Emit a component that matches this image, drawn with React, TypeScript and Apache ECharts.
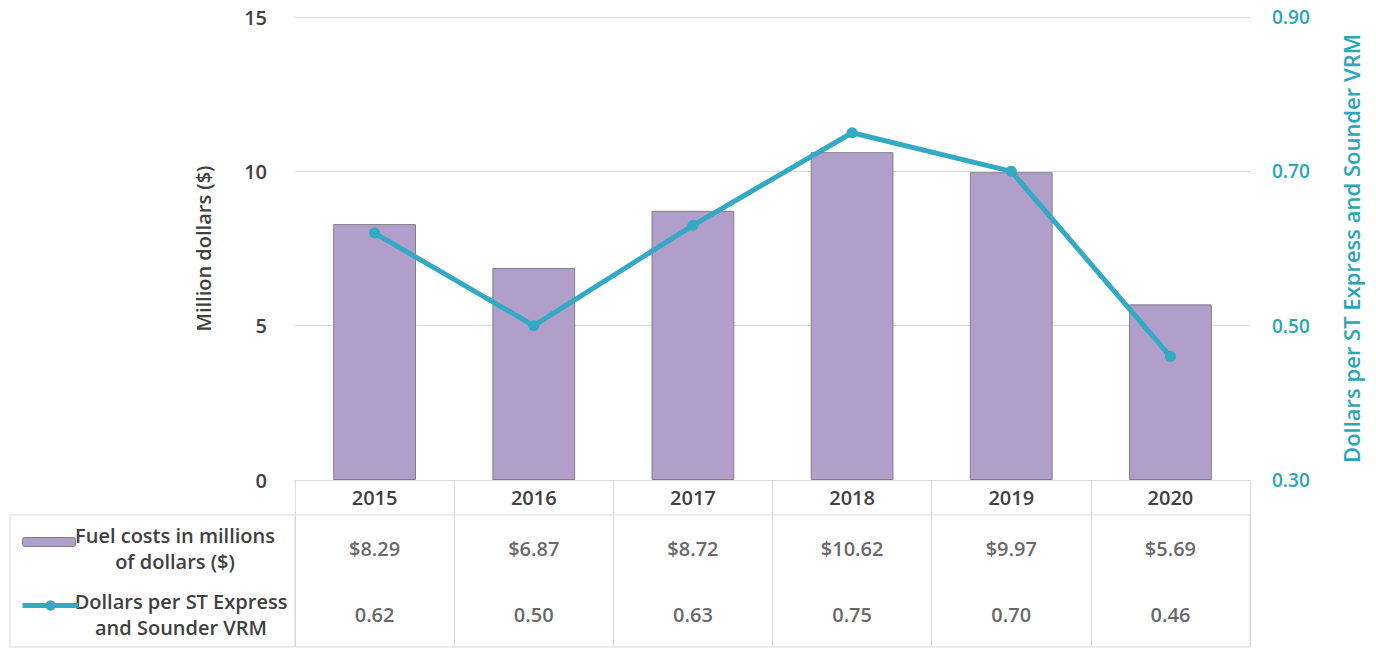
import React, { useEffect, useRef } from "react";
import * as echarts from "echarts";

const years = ["2015", "2016", "2017", "2018", "2019", "2020"];
const fuelCosts = [8.29, 6.87, 8.72, 10.62, 9.97, 5.69];
const dollarsPerVRM = [0.62, 0.5, 0.63, 0.75, 0.7, 0.46];
const leftTicks = [0, 5, 10, 15];
const rightTicks = [0.3, 0.5, 0.7, 0.9];
const tableRows = ["line", "fuel"];

const FUEL_NAME = "Fuel costs in millions of dollars ($)";
const LINE_NAME = "Dollars per ST Express and Sounder VRM";
const FUEL_LEGEND = "Fuel costs in millions\nof dollars ($)";
const LINE_LEGEND = "Dollars per ST Express\nand Sounder VRM";

const FONT = "'Open Sans', 'Noto Sans', sans-serif";
const GREY = "#d9d9d9";
const TEXT = "#404040";
const TEAL = "#2ba6b4";
const LINE = "#33a9c4";
const BAR = "#b09fcb";

export default function App() {
  const ref = useRef<HTMLDivElement>(null);
  useEffect(() => {
    if (!ref.current) return;
    const chart = echarts.init(ref.current, undefined, { renderer: "svg" });
    const labelStyle = { color: TEXT, fontFamily: FONT, fontSize: 20, fontWeight: 600 };
    chart.setOption({
      animation: false,
      textStyle: { fontFamily: FONT },
      grid: [
        { left: 295, right: 126, top: 17, bottom: 172 },
        { left: 295, right: 126, top: 515, bottom: 5, show: true, borderColor: GREY, borderWidth: 1, backgroundColor: "transparent" },
      ],
      legend: [
        {
          data: [{ name: FUEL_NAME, itemStyle: { borderColor: "#7f7f7f", borderWidth: 1 } }],
          left: 17, top: 532, itemWidth: 53, itemHeight: 9, formatter: () => "",
          textStyle: { fontSize: 1 }, selectedMode: false,
        },
        {
          data: [{ name: LINE_NAME, lineStyle: { width: 5 } }],
          left: 15, top: 594, itemWidth: 56, itemHeight: 13, formatter: () => "",
          textStyle: { fontSize: 1 }, selectedMode: false,
        },
      ],
      xAxis: [
        {
          type: "category", gridIndex: 0, data: years,
          axisLine: { show: true, lineStyle: { color: GREY, width: 1 } },
          axisTick: { show: true, length: 35, inside: false, lineStyle: { color: GREY } },
          axisLabel: { ...labelStyle, margin: 7 },
        },
        {
          type: "category", gridIndex: 1, data: years,
          axisLine: { show: false }, axisTick: { show: false }, axisLabel: { show: false },
          splitLine: { show: true, lineStyle: { color: GREY, width: 1 } },
        },
      ],
      yAxis: [
        {
          type: "value", gridIndex: 0, min: leftTicks[0], max: leftTicks[leftTicks.length - 1], interval: 5,
          name: "Million dollars ($)", nameLocation: "middle", nameGap: 82,
          nameTextStyle: { color: TEXT, fontFamily: FONT, fontSize: 20, fontWeight: 600 },
          axisLine: { show: false }, axisTick: { show: false },
          axisLabel: { ...labelStyle, margin: 28 },
          splitLine: { show: true, lineStyle: { color: GREY, width: 1 } },
        },
        {
          type: "value", gridIndex: 0, position: "right", min: rightTicks[0], max: rightTicks[rightTicks.length - 1], interval: 0.2,
          name: LINE_NAME, nameLocation: "middle", nameGap: 90, nameRotate: 90,
          nameTextStyle: { color: TEAL, fontFamily: FONT, fontSize: 22, fontWeight: 600 },
          axisLine: { show: false }, axisTick: { show: false },
          axisLabel: { color: TEAL, fontFamily: FONT, fontSize: 19, fontWeight: 600, margin: 22, formatter: (v: number) => v.toFixed(2) },
          splitLine: { show: false },
        },
        {
          type: "category", gridIndex: 1, data: tableRows, show: false,
        },
      ],
      series: [
        {
          name: FUEL_NAME, type: "bar", xAxisIndex: 0, yAxisIndex: 0, data: fuelCosts,
          barCategoryGap: "48%",
          itemStyle: { color: BAR, borderColor: "#7f7f7f", borderWidth: 1 },
        },
        {
          name: LINE_NAME, type: "line", xAxisIndex: 0, yAxisIndex: 1, data: dollarsPerVRM,
          symbol: "circle", symbolSize: 11,
          lineStyle: { color: LINE, width: 5 }, itemStyle: { color: LINE },
        },
        {
          type: "scatter", xAxisIndex: 1, yAxisIndex: 2, symbolSize: 0, silent: true,
          data: fuelCosts.map((v, i) => [i, 1, v]),
          label: { show: true, position: "inside", ...labelStyle, formatter: (p: any) => "$" + p.value[2].toFixed(2) },
        },
        {
          type: "scatter", xAxisIndex: 1, yAxisIndex: 2, symbolSize: 0, silent: true,
          data: dollarsPerVRM.map((v, i) => [i, 0, v]),
          label: { show: true, position: "inside", ...labelStyle, formatter: (p: any) => p.value[2].toFixed(2) },
        },
      ],
      graphic: [
        { type: "line", shape: { x1: 10, y1: 515, x2: 295, y2: 515 }, style: { stroke: GREY, lineWidth: 1 } },
        { type: "line", shape: { x1: 10, y1: 647, x2: 295, y2: 647 }, style: { stroke: GREY, lineWidth: 1 } },
        { type: "line", shape: { x1: 10, y1: 515, x2: 10, y2: 647 }, style: { stroke: GREY, lineWidth: 1 } },
        {
          type: "text", x: 175, y: 522,
          style: { text: FUEL_LEGEND, align: "center", verticalAlign: "top", fill: TEXT, font: `600 20px ${FONT}`, lineHeight: 26 },
        },
        {
          type: "text", x: 181, y: 588,
          style: { text: LINE_LEGEND, align: "center", verticalAlign: "top", fill: TEXT, font: `600 20px ${FONT}`, lineHeight: 26 },
        },
      ],
    });
    return () => chart.dispose();
  }, []);
  return <div ref={ref} style={{ width: 1376, height: 652, position: "absolute", left: 0, top: 0 }} />;
}
